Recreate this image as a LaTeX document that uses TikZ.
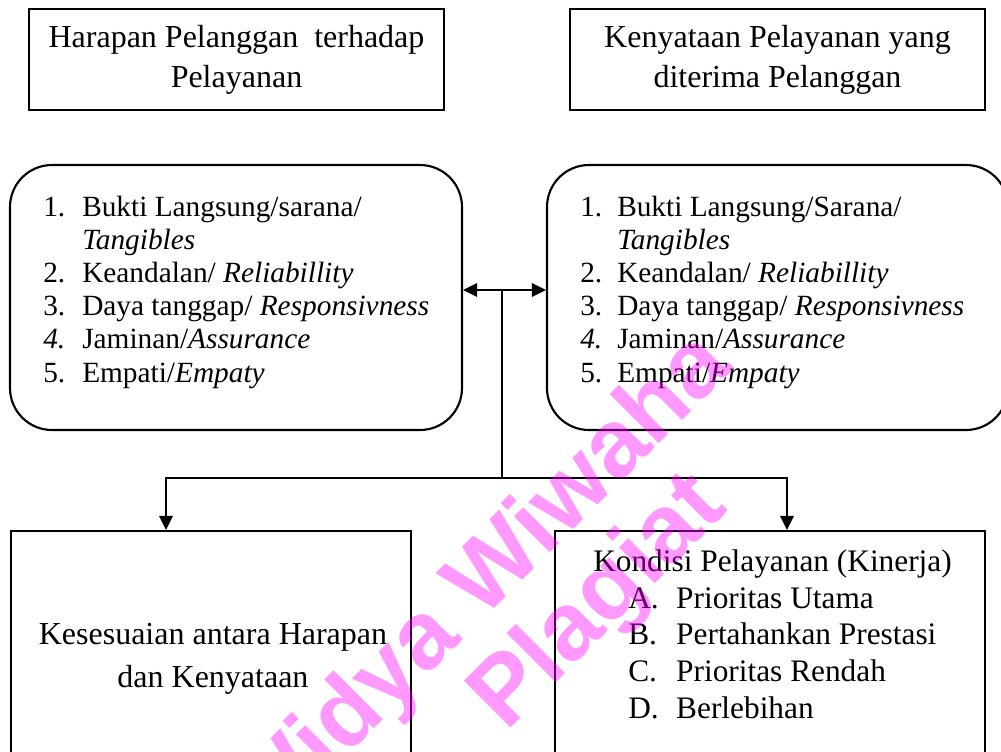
\documentclass[tikz,border=0pt]{standalone}
\usepackage{fontspec}
\setmainfont{Liberation Serif}
\newfontfamily\wmfont{Liberation Sans}
\usetikzlibrary{arrows.meta}

\definecolor{wmpink}{RGB}{255,0,255}

% fixed-width label column for the numbered lists
\newcommand{\itm}[3]{\makebox[#1][l]{#2}#3}

\begin{document}
\begin{tikzpicture}[x=0.75pt,y=-0.75pt,
  box/.style={draw,line width=1.6pt,fill=white,inner sep=0pt},
  titlebox/.style={box,minimum width=311.25pt,minimum height=75.75pt,
    align=center,font=\fontsize{24}{30}\selectfont},
  listbox/.style={box,rounded corners=31.5pt,minimum height=198.75pt},
  listtext/.style={anchor=base west,inner sep=0pt,align=left,
    font=\fontsize{22}{24.9}\selectfont},
  wire/.style={line width=1.5pt},
  tip/.style={-{Triangle[length=10.5pt,width=10pt]}},
  wm/.style={anchor=base,rotate=45,inner sep=0pt,text=wmpink,text opacity=0.4,
    font=\wmfont\bfseries\fontsize{72}{72}\selectfont}]
\useasboundingbox (0,0) rectangle (1001,751);

% top row: expectation and reality
\node[titlebox] (harapan) at (236.5,59.5) {Harapan Pelanggan~ terhadap\\Pelayanan};
\node[titlebox] (kenyataan) at (777.5,59.5) {Kenyataan Pelayanan yang\\diterima Pelanggan};

% service quality dimensions (text nodes are placed by their last baseline)
\node[listbox,minimum width=339pt] (lbox) at (236,297.5) {};
\node[listbox,minimum width=345.75pt] (rbox) at (777.5,297.5) {};

\node[listtext] (ltext) at (43,382) {%
  \itm{29.25pt}{1.}{Bukti Langsung/sarana/}\\
  \itm{29.25pt}{}{\textit{Tangibles}}\\
  \itm{29.25pt}{2.}{Keandalan/ \textit{Reliabillity}}\\
  \itm{29.25pt}{3.}{Daya tanggap/ \textit{Responsivness}}\\
  \itm{29.25pt}{\textit{4.}}{Jaminan/\textit{Assurance}}\\
  \itm{29.25pt}{5.}{Empati/\textit{Empaty}}};
\node[listtext] (rtext) at (580,382) {%
  \itm{27.75pt}{1.}{Bukti Langsung/Sarana/}\\
  \itm{27.75pt}{}{\textit{Tangibles}}\\
  \itm{27.75pt}{2.}{Keandalan/ \textit{Reliabillity}}\\
  \itm{27.75pt}{3.}{Daya tanggap/ \textit{Responsivness}}\\
  \itm{27.75pt}{\textit{4.}}{Jaminan/\textit{Assurance}}\\
  \itm{27.75pt}{5.}{Empati/\textit{Empaty}}};

% bottom row: outcomes
\node[box,minimum width=300pt,minimum height=216.75pt] (kesesuaian) at (211,675.5) {};
\node[box,minimum width=322.5pt,minimum height=216.75pt] (kondisi) at (770,675.5) {};

\node[anchor=base,inner sep=0pt,align=center,font=\fontsize{24}{32.25}\selectfont]
  (kestext) at (213,687) {Kesesuaian antara Harapan\\dan Kenyataan};
\node[anchor=base west,inner sep=0pt,align=left,font=\fontsize{23.5}{27.4}\selectfont]
  (kontext) at (593,718) {Kondisi Pelayanan (Kinerja)\\
  \hspace*{26.25pt}\itm{36pt}{A.}{Prioritas Utama}\\
  \hspace*{26.25pt}\itm{36pt}{B.}{Pertahankan Prestasi}\\
  \hspace*{26.25pt}\itm{36pt}{C.}{Prioritas Rendah}\\
  \hspace*{26.25pt}\itm{36pt}{D.}{Berlebihan}};

% connectors
\coordinate (j) at (502,290);
\coordinate (k) at (502,478);
\coordinate (dl) at (166,478);
\coordinate (dr) at (787,478);
\draw[wire,tip] (j) -- (j -| lbox.east);
\draw[wire,tip] (j) -- (j -| rbox.west);
\draw[wire] (j) -- (k);
\draw[wire,tip] (k) -- (dl) -- (dl |- kesesuaian.north);
\draw[wire,tip] (k) -- (dr) -- (dr |- kondisi.north);

% repository watermark
\node[wm] (wm1) at (499,604) {Widya Wiwaha};
\node[wm] (wm2) at (618,621) {Plagiat};
\end{tikzpicture}
\end{document}
